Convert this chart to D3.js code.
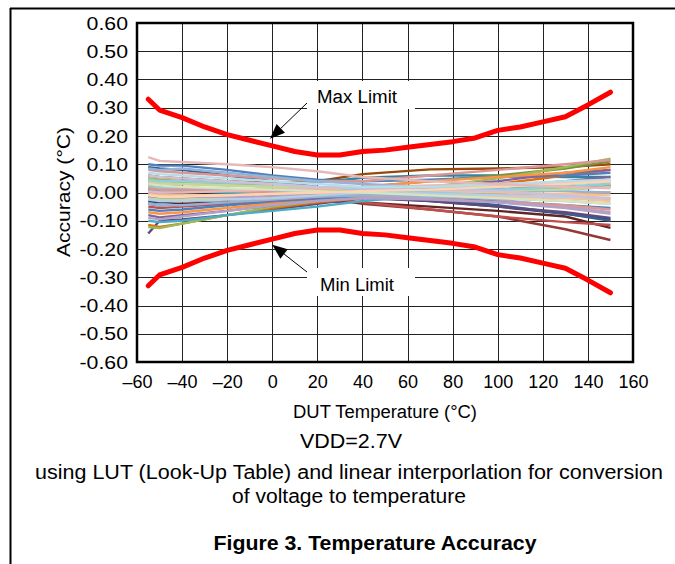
<!DOCTYPE html>
<html><head><meta charset="utf-8">
<script src="https://cdn.jsdelivr.net/npm/d3@7"></script>
<style>html,body{margin:0;padding:0;background:#fff;}svg{display:block;font-family:"Liberation Sans",Arial,sans-serif;}</style>
</head><body>
<svg id="c" width="675" height="564"></svg>
<script>
// ---- data ----
const xTicks = [-60,-40,-20,0,20,40,60,80,100,120,140,160];
const xTickLabels = ["\u201360","\u201340","\u201320","0","20","40","60","80","100","120","140","160"];
const yTicks = [0.6,0.5,0.4,0.3,0.2,0.1,0,-0.1,-0.2,-0.3,-0.4,-0.5,-0.6];
const yTickLabels = ["0.60","0.50","0.40","0.30","0.20","0.10","0.00","-0.10","-0.20","-0.30","-0.40","-0.50","-0.60"];

const limitTemps = [-55,-50,-40,-30,-20,-10,0,10,20,30,40,50,60,70,80,90,100,110,120,130,140,150];
const maxLimit = [0.330,0.292,0.265,0.232,0.205,0.185,0.165,0.145,0.133,0.133,0.145,0.150,0.160,0.170,0.180,0.193,0.220,0.232,0.250,0.268,0.310,0.355];
const minLimit = [-0.330,-0.292,-0.265,-0.232,-0.205,-0.185,-0.165,-0.145,-0.133,-0.133,-0.145,-0.150,-0.160,-0.170,-0.180,-0.193,-0.220,-0.232,-0.250,-0.268,-0.310,-0.355];

const devTemps = [-55,-50,-40,-20,0,20,40,70,100,130,150];
const seriesColors = ["#953735","#632523","#1F497D","#376092","#604A7B","#984807","#31859C","#77933C","#E46C0A","#C0504D","#4F81BD","#9BBB59","#8064A2","#4BACC6","#F79646","#C0504D","#4F81BD","#9BBB59","#8064A2","#4BACC6","#F79646","#D99694","#95B3D7","#C3D69B","#B3A2C7","#93CDDD","#FAC090","#D99694","#95B3D7","#C3D69B","#B3A2C7","#93CDDD","#FAC090","#E6B9B8","#B9CDE5","#D7E4BD","#CCC1DA","#B7DEE8","#FCD5B5","#E6B9B8"];
const dev01 = [0.030,0.025,0.020,0.010,0.000,-0.015,-0.040,-0.060,-0.085,-0.130,-0.168];
const dev02 = [-0.040,-0.045,-0.040,-0.035,-0.030,-0.030,-0.035,-0.050,-0.065,-0.085,-0.125];
const dev03 = [-0.030,-0.035,-0.030,-0.025,-0.020,-0.015,-0.015,-0.030,-0.050,-0.075,-0.095];
const dev04 = [0.090,0.085,0.080,0.060,0.040,0.020,0.000,-0.020,-0.045,-0.075,-0.100];
const dev05 = [-0.145,-0.100,-0.095,-0.080,-0.060,-0.040,-0.020,-0.030,-0.050,-0.070,-0.090];
const dev06 = [0.060,0.055,0.050,0.040,0.035,0.040,0.065,0.082,0.085,0.090,0.100];
const dev07 = [0.040,0.035,0.035,0.030,0.030,0.035,0.052,0.060,0.060,0.055,0.055];
const dev08 = [0.020,0.015,0.015,0.010,0.010,0.010,0.020,0.040,0.060,0.085,0.110];
const dev09 = [-0.115,-0.122,-0.110,-0.080,-0.055,-0.035,-0.020,0.000,0.030,0.060,0.080];
const dev10 = [0.010,0.008,0.005,0.000,-0.005,-0.015,-0.035,-0.060,-0.085,-0.105,-0.115];
const dev11 = [0.100,0.095,0.095,0.080,0.060,0.045,0.040,0.045,0.055,0.060,0.070];
const dev12 = [-0.122,-0.126,-0.110,-0.080,-0.050,-0.030,-0.010,0.020,0.050,0.090,0.120];
const dev13 = [-0.080,-0.088,-0.080,-0.065,-0.045,-0.025,-0.005,0.020,0.040,0.070,0.080];
const dev14 = [-0.100,-0.105,-0.100,-0.080,-0.065,-0.050,-0.030,-0.010,0.010,0.030,0.040];
const dev15 = [0.050,0.045,0.040,0.030,0.020,0.015,0.020,0.040,0.055,0.070,0.090];
const dev16 = [-0.050,-0.055,-0.050,-0.040,-0.030,-0.020,-0.010,0.000,0.010,0.020,0.025];
const dev17 = [-0.060,-0.065,-0.060,-0.045,-0.035,-0.025,-0.015,-0.020,-0.030,-0.045,-0.055];
const dev18 = [0.050,0.045,0.040,0.030,0.020,0.010,0.005,0.000,0.010,0.020,0.030];
const dev19 = [-0.015,-0.020,-0.020,-0.015,-0.010,-0.005,0.000,0.010,0.020,0.040,0.055];
const dev20 = [0.010,0.005,0.005,0.000,-0.005,-0.010,-0.015,-0.010,0.000,0.010,0.020];
const dev21 = [-0.070,-0.075,-0.070,-0.055,-0.040,-0.030,-0.020,-0.015,-0.010,-0.005,0.000];
const dev22 = [0.080,0.075,0.070,0.060,0.050,0.040,0.040,0.060,0.080,0.100,0.115];
const dev23 = [0.085,0.080,0.085,0.070,0.055,0.040,0.030,0.020,0.010,0.005,0.000];
const dev24 = [-0.020,-0.025,-0.025,-0.020,-0.015,-0.010,-0.005,0.000,0.005,0.010,0.020];
const dev25 = [0.000,-0.005,-0.010,-0.015,-0.015,-0.010,-0.005,-0.010,-0.025,-0.050,-0.070];
const dev26 = [0.020,0.015,0.015,0.010,0.005,0.000,0.000,0.005,0.010,0.020,0.030];
const dev27 = [0.040,0.035,0.030,0.025,0.020,0.015,0.010,0.005,0.000,-0.005,-0.010];
const dev28 = [0.015,0.010,0.010,0.005,0.000,-0.005,-0.010,-0.020,-0.035,-0.045,-0.060];
const dev29 = [-0.040,-0.045,-0.045,-0.035,-0.025,-0.015,-0.010,-0.015,-0.020,-0.030,-0.040];
const dev30 = [0.035,0.030,0.030,0.025,0.020,0.015,0.015,0.020,0.025,0.035,0.045];
const dev31 = [-0.090,-0.095,-0.085,-0.065,-0.045,-0.030,-0.020,-0.025,-0.035,-0.055,-0.075];
const dev32 = [0.045,0.040,0.040,0.035,0.030,0.020,0.010,0.000,-0.010,-0.020,-0.025];
const dev33 = [-0.005,-0.010,-0.010,-0.010,-0.005,0.000,0.000,-0.005,-0.015,-0.020,-0.030];
const dev34 = [0.005,0.000,0.000,0.005,0.010,0.015,0.020,0.025,0.030,0.035,0.040];
const dev35 = [-0.025,-0.030,-0.030,-0.025,-0.020,-0.010,0.000,-0.005,-0.010,-0.015,-0.020];
const dev36 = [0.030,0.025,0.020,0.015,0.010,0.005,0.000,-0.010,-0.020,-0.030,-0.040];
const dev37 = [0.060,0.055,0.050,0.040,0.030,0.020,0.015,0.010,0.005,-0.010,-0.020];
const dev38 = [0.070,0.065,0.060,0.050,0.040,0.030,0.020,0.020,0.030,0.040,0.045];
const dev39 = [-0.010,-0.015,-0.015,-0.010,-0.005,0.000,0.005,0.010,0.020,0.030,0.040];
const dev40 = [0.125,0.112,0.108,0.100,0.090,0.075,0.055,0.040,0.030,0.020,0.015];
const devSeries = [dev01,dev02,dev03,dev04,dev05,dev06,dev07,dev08,dev09,dev10,dev11,dev12,dev13,dev14,dev15,dev16,dev17,dev18,dev19,dev20,dev21,dev22,dev23,dev24,dev25,dev26,dev27,dev28,dev29,dev30,dev31,dev32,dev33,dev34,dev35,dev36,dev37,dev38,dev39,dev40];

const xTitle = "DUT Temperature (\u00B0C)";
const yTitle = "Accuracy (\u00B0C)";
const note1 = "VDD=2.7V";
const note2 = "using LUT (Look-Up Table) and linear interporlation for conversion";
const note3 = "of voltage to temperature";
const figTitle = "Figure 3. Temperature Accuracy";

// ---- drawing ----
const svg = d3.select("#c");
const L = 137, R = 633, T = 23, B = 362;
const x = d3.scaleLinear().domain([-60,160]).range([L,R]);
const y = d3.scaleLinear().domain([-0.6,0.6]).range([B,T]);

// page frame
svg.append("line").attr("x1",10).attr("x2",675).attr("y1",8.5).attr("y2",8.5).attr("stroke","#000").attr("stroke-width",2);
svg.append("line").attr("x1",10.5).attr("x2",10.5).attr("y1",8).attr("y2",564).attr("stroke","#000").attr("stroke-width",2);

// grid
const grid = svg.append("g");
grid.selectAll(".vg").data(xTicks).join("line")
  .attr("x1",d=>Math.round(x(d))+0.5).attr("x2",d=>Math.round(x(d))+0.5)
  .attr("y1",T).attr("y2",B).attr("stroke","#222").attr("stroke-width",1);
grid.selectAll(".hg").data(yTicks).join("line")
  .attr("y1",d=>Math.round(y(d))+0.5).attr("y2",d=>Math.round(y(d))+0.5)
  .attr("x1",L).attr("x2",R).attr("stroke","#222").attr("stroke-width",1);

// device curves
const line = d3.line().x(d=>x(d[0])).y(d=>y(d[1]));
svg.append("g").selectAll("path").data(devSeries).join("path")
  .attr("d",s=>line(s.map((v,i)=>[devTemps[i],v])))
  .attr("fill","none").attr("stroke",(s,i)=>seriesColors[i])
  .attr("stroke-width",2.4).attr("stroke-linejoin","round");

// limits
[maxLimit,minLimit].forEach(s=>{
  svg.append("path").attr("d",line(s.map((v,i)=>[limitTemps[i],v])))
    .attr("fill","none").attr("stroke","#FF0000").attr("stroke-width",5)
    .attr("stroke-linejoin","round").attr("stroke-linecap","round");
});

// plot frame
svg.append("rect").attr("x",L).attr("y",T).attr("width",R-L).attr("height",B-T)
  .attr("fill","none").attr("stroke","#000").attr("stroke-width",2.5);

// axes
const FF = "Liberation Sans, Arial, sans-serif";
const yAxis = d3.axisLeft(y).tickValues(yTicks).tickSize(0).tickPadding(9)
  .tickFormat((d,i)=>yTickLabels[i]);
const ga = svg.append("g").attr("transform",`translate(${L},0)`).call(yAxis);
ga.select(".domain").remove();
ga.selectAll("text").attr("font-size",19).attr("font-family",FF).attr("fill","#000")
  .attr("textLength",function(){return this.getComputedTextLength()*1.12;}).attr("lengthAdjust","spacingAndGlyphs");

const xAxis = d3.axisBottom(x).tickValues(xTicks).tickSize(0).tickPadding(13)
  .tickFormat((d,i)=>xTickLabels[i]);
const gx = svg.append("g").attr("transform",`translate(0,${B})`).call(xAxis);
gx.select(".domain").remove();
gx.selectAll("text").attr("font-size",18).attr("font-family",FF).attr("fill","#000");

// titles
function txt(s, xx, yy, size, len, bold){
  const t = svg.append("text").attr("x",xx).attr("y",yy).attr("text-anchor","middle")
    .attr("font-size",size).attr("font-family",FF).text(s);
  if (bold) t.attr("font-weight","bold");
  if (len) t.attr("textLength",len).attr("lengthAdjust","spacingAndGlyphs");
  return t;
}
txt(xTitle, 385, 418, 18, 184);
svg.append("text").attr("transform","translate(70,192) rotate(-90)").attr("text-anchor","middle")
  .attr("font-size",19).attr("font-family",FF).attr("textLength",130).attr("lengthAdjust","spacingAndGlyphs").text(yTitle);
txt(note1, 351, 448, 19.5, 102);
txt(note2, 349, 479, 19.5, 628);
txt(note3, 349, 503, 19.5, 234);
txt(figTitle, 375, 550, 19.5, 323, true);

// annotations
function annot(label, boxY, tipT, tipV, fromX, fromY, textY, len){
  svg.append("rect").attr("x",307).attr("y",boxY).attr("width",108).attr("height",28).attr("fill","#fff");
  txt(label, 357, textY, 18, len);
  const tx = x(tipT), ty = y(tipV);
  const ang = Math.atan2(ty-fromY, tx-fromX);
  const al = 15, w = 6;
  const bx = tx - al*Math.cos(ang), by = ty - al*Math.sin(ang);
  svg.append("line").attr("x1",fromX).attr("y1",fromY).attr("x2",bx).attr("y2",by).attr("stroke","#000").attr("stroke-width",1);
  const px = -Math.sin(ang), py = Math.cos(ang);
  svg.append("path").attr("d",`M${tx},${ty}L${bx+px*w},${by+py*w}L${bx-px*w},${by-py*w}Z`).attr("fill","#000");
}
annot("Max Limit", 81, -1, 0.19, 307, 103, 103, 80);
annot("Min Limit", 268, 0, -0.185, 307, 272, 291, 74);
</script>
</body></html>
